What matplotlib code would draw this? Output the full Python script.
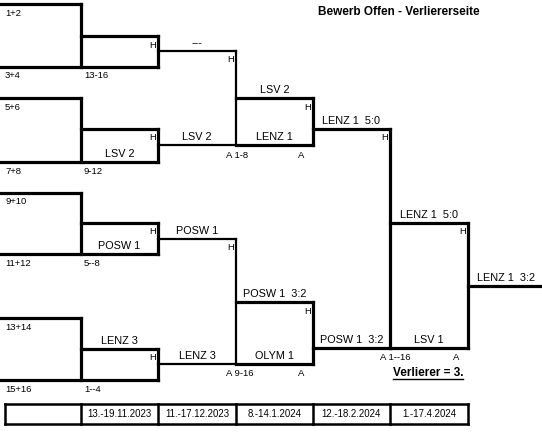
import matplotlib
matplotlib.use("Agg")
import matplotlib.pyplot as plt

plt.rcParams['font.family'] = ['Liberation Sans', 'DejaVu Sans']

# ---------------- data ----------------
title = "Bewerb Offen - Verliererseite"
seed_labels = ["1+2", "3+4", "5+6", "7+8", "9+10", "11+12", "13+14", "15+16"]
r1_ranges = ["13-16", "9-12", "5--8", "1--4"]
r1_winners = ["", "LSV 2", "POSW 1", "LENZ 3"]
r1_winner_side = ["bottom", "bottom", "bottom", "top"]
r2_labels = ["---", "LSV 2", "POSW 1", "LENZ 3"]
r3_ranges = ["1-8", "9-16"]
r3_top = ["LSV 2", "POSW 1  3:2"]
r3_bottom = ["LENZ 1", "OLYM 1"]
r4_labels = ["LENZ 1  5:0", "POSW 1  3:2"]
r5_top = "LENZ 1  5:0"
r5_bottom = "LSV 1"
r5_range = "1--16"
final_label = "LENZ 1  3:2"
loser_note = "Verlierer = 3."
dates = ["", "13.-19.11.2023", "11.-17.12.2023", "8.-14.1.2024", "12.-18.2.2024", "1.-17.4.2024"]

# ---------------- layout ----------------
X = [0, 81, 158, 236, 313, 390, 468, 542]
r1_top_y = [4, 98, 193, 318]
r1_bot_y = [67, 162, 254, 380]
r1_inner_y = [36, 129, 223, 349]
r2_y = [51, 145, 239, 364]
r3_box = [(98, 145), (302, 364)]
r4_y = [129, 348]
r5_box = (223, 348)
final_y = 286
table_x = [5, 81, 158, 236, 313, 390, 468]
table_y = (404, 424)

THICK = 2.3
THIN = 1.6
SMALL = 6.8
MID = 7.8
BOLD = 8.5

fig = plt.figure(figsize=(5.42, 4.32), dpi=100)
ax = fig.add_axes([0, 0, 1, 1])
ax.set_xlim(0, 542)
ax.set_ylim(432, 0)
ax.axis('off')


def seg(x0, y0, x1, y1, lw=THICK):
    ax.plot([x0, x1], [y0, y1], color='black', lw=lw,
            solid_capstyle='projecting')


def txt(x, y, s, size=SMALL, ha='left', **kw):
    return ax.text(x, y, s, fontsize=size, ha=ha, va='center', color='black', **kw)


# round 1
for i in range(4):
    t, b, m = r1_top_y[i], r1_bot_y[i], r1_inner_y[i]
    seg(X[0], t, X[1], t)
    seg(X[1], t, X[1], b)
    seg(X[1], m, X[2], m)
    seg(X[2], m, X[2], b)
    seg(X[0], b, X[2], b)
    txt(5, t + 9, seed_labels[2 * i])
    txt(5, b + 9, seed_labels[2 * i + 1])
    txt(X[1] + 3, b + 9, r1_ranges[i])
    txt(X[2] - 2, m + 9, "H", ha='right')
    if r1_winners[i]:
        yy = (b if r1_winner_side[i] == "bottom" else m) - 8
        txt((X[1] + X[2]) / 2, yy, r1_winners[i], size=MID, ha='center')

# round 2 lines
for i in range(4):
    seg(X[2], r2_y[i], X[3], r2_y[i], lw=THIN)
    txt((X[2] + X[3]) / 2, r2_y[i] - 8, r2_labels[i], size=MID, ha='center')

# round 2 verticals + round 3 boxes
for k in range(2):
    ya, yb = r2_y[2 * k], r2_y[2 * k + 1]
    seg(X[3], ya, X[3], yb, lw=THIN)
    txt(X[3] - 2, ya + 8, "H", ha='right')
    txt(X[3] - 10, yb + 10, "A " + r3_ranges[k])
    top, bot = r3_box[k]
    seg(X[3], top, X[4], top)
    seg(X[3], bot, X[4], bot)
    seg(X[4], top, X[4], bot)
    txt((X[3] + X[4]) / 2, top - 8, r3_top[k], size=MID, ha='center')
    txt((X[3] + X[4]) / 2, bot - 8, r3_bottom[k], size=MID, ha='center')
    txt(X[4] - 2, top + 9, "H", ha='right')
    txt(X[4] - 12, bot + 10, "A", ha='center')

# round 4
for k in range(2):
    seg(X[4], r4_y[k], X[5], r4_y[k])
    txt((X[4] + X[5]) / 2, r4_y[k] - 8, r4_labels[k], size=MID, ha='center')
seg(X[5], r4_y[0], X[5], r4_y[1])
txt(X[5] - 2, r4_y[0] + 9, "H", ha='right')
txt(X[5] - 10, r4_y[1] + 9, "A " + r5_range)

# round 5 box
top, bot = r5_box
seg(X[5], top, X[6], top)
seg(X[5], bot, X[6], bot)
seg(X[6], top, X[6], bot)
txt((X[5] + X[6]) / 2, top - 8, r5_top, size=MID, ha='center')
txt((X[5] + X[6]) / 2, bot - 8, r5_bottom, size=MID, ha='center')
txt(X[6] - 2, top + 9, "H", ha='right')
txt(X[6] - 12, bot + 9, "A", ha='center')

# final
seg(X[6], final_y, X[7] + 5, final_y)
txt((X[6] + X[7]) / 2 + 1, final_y - 8, final_label, size=MID, ha='center')

# title
txt(399, 12, title, size=BOLD, ha='center', fontweight='bold')

# loser note (underlined)
note = txt(428, 373, loser_note, size=BOLD, ha='center', fontweight='bold')
fig.canvas.draw()
bb = note.get_window_extent(renderer=fig.canvas.get_renderer())
inv = ax.transData.inverted()
(x0, y0), (x1, y1) = inv.transform([(bb.x0, bb.y0), (bb.x1, bb.y1)])
uy = max(y0, y1) - 0.5
ax.plot([x0, x1], [uy, uy], color='black', lw=1.0)

# date table
ty0, ty1 = table_y
for j in range(len(dates)):
    xa, xb = table_x[j], table_x[j + 1]
    seg(xa, ty0, xb, ty0, lw=1.8)
    seg(xa, ty1, xb, ty1, lw=1.8)
    txt((xa + xb) / 2, (ty0 + ty1) / 2, dates[j], size=6.9, ha='center')
for xv in table_x:
    seg(xv, ty0, xv, ty1, lw=1.8)

fig.savefig("out.png", dpi=100)
